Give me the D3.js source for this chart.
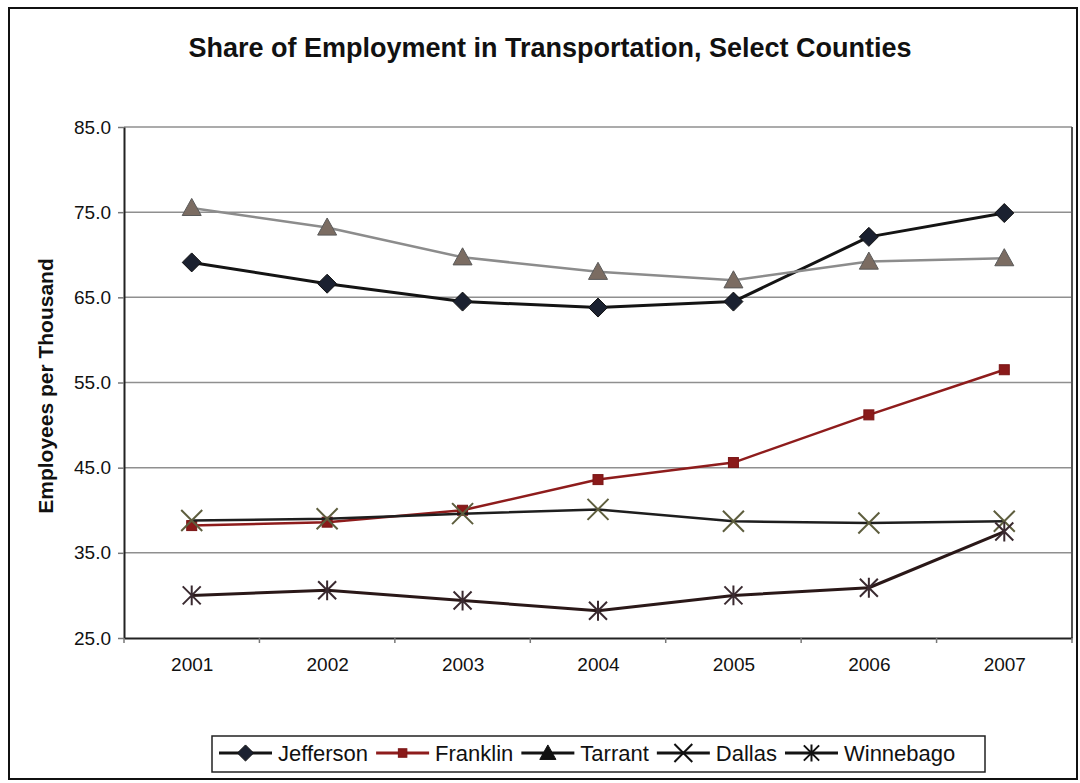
<!DOCTYPE html>
<html>
<head>
<meta charset="utf-8">
<script src="https://cdn.jsdelivr.net/npm/d3@7"></script>
<style>
  html, body { margin: 0; padding: 0; background: #fff; }
  svg { display: block; font-family: "Liberation Sans", Arial, sans-serif; }
</style>
</head>
<body>
<svg id="chart" width="1080" height="783"></svg>
<script>
// ---- data ----
const years = ["2001", "2002", "2003", "2004", "2005", "2006", "2007"];
const yTicks = [25, 35, 45, 55, 65, 75, 85];
const seriesNames = ["Jefferson", "Franklin", "Tarrant", "Dallas", "Winnebago"];
const jefferson = [69.1, 66.6, 64.5, 63.8, 64.5, 72.1, 74.9];
const franklin  = [38.2, 38.6, 40.0, 43.6, 45.6, 51.2, 56.5];
const tarrant   = [75.5, 73.2, 69.7, 68.0, 67.0, 69.2, 69.6];
const dallas    = [38.8, 39.0, 39.6, 40.1, 38.7, 38.5, 38.7];
const winnebago = [30.0, 30.6, 29.4, 28.2, 30.0, 30.9, 37.5];
const titleText = "Share of Employment in Transportation, Select Counties";
const yTitleText = "Employees per Thousand";

// ---- styles ----
const styles = {
  Jefferson: { line: "#141414", width: 3,   marker: "diamond",  fill: "#1b2130", stroke: "#111", legendLine: "#141414" },
  Franklin:  { line: "#8e1c1c", width: 2.5, marker: "square",   fill: "#8a1a1a", stroke: "#7a1515", legendLine: "#8e1c1c" },
  Tarrant:   { line: "#8c8c8c", width: 2.5, marker: "triangle", fill: "#7b6c62", stroke: "#5a5a5a", legendLine: "#141414" },
  Dallas:    { line: "#1e1e1e", width: 2.5, marker: "x",        fill: "none",    stroke: "#5e5e3e", legendLine: "#141414" },
  Winnebago: { line: "#2a1818", width: 3,   marker: "star",     fill: "none",    stroke: "#3a2a30", legendLine: "#141414" }
};
const seriesValues = [jefferson, franklin, tarrant, dallas, winnebago];

const svg = d3.select("#chart");
const plot = { left: 124, right: 1072, top: 127, bottom: 638 };

// outer border
svg.append("rect").attr("x", 9).attr("y", 8).attr("width", 1068).attr("height", 771)
  .attr("fill", "none").attr("stroke", "#111").attr("stroke-width", 2);

// title
svg.append("text").attr("x", 550).attr("y", 57).attr("text-anchor", "middle")
  .attr("font-size", 27).attr("font-weight", "bold").attr("fill", "#111").text(titleText);

const x = d3.scalePoint().domain(years).range([plot.left, plot.right]).padding(0.5);
const y = d3.scaleLinear().domain([25, 85]).range([plot.bottom, plot.top]);

// gridlines
svg.append("g").selectAll("line").data(yTicks.filter(d => d > 25)).join("line")
  .attr("x1", plot.left).attr("x2", plot.right)
  .attr("y1", d => y(d)).attr("y2", d => y(d))
  .attr("stroke", "#8f8f8f").attr("stroke-width", 1.5);

// right frame
svg.append("line").attr("x1", plot.right).attr("x2", plot.right)
  .attr("y1", plot.top).attr("y2", plot.bottom).attr("stroke", "#555").attr("stroke-width", 2);

// y axis
const yAxis = svg.append("g").attr("transform", `translate(${plot.left},0)`)
  .call(d3.axisLeft(y).tickValues(yTicks).tickFormat(d3.format(".1f")).tickSize(6).tickSizeOuter(0));
yAxis.select(".domain").attr("stroke", "#222").attr("stroke-width", 2);
yAxis.selectAll(".tick line").attr("stroke", "#777").attr("stroke-width", 1.5);
yAxis.selectAll(".tick text").attr("font-size", 19).attr("fill", "#111")
  .attr("font-family", "Liberation Sans, Arial, sans-serif").attr("x", -13);

// x axis
const xAxis = svg.append("g").attr("transform", `translate(0,${plot.bottom})`)
  .call(d3.axisBottom(x).tickSize(0).tickSizeOuter(0).tickPadding(20));
xAxis.select(".domain").attr("stroke", "#222").attr("stroke-width", 2);
xAxis.selectAll(".tick text").attr("font-size", 19).attr("fill", "#111")
  .attr("font-family", "Liberation Sans, Arial, sans-serif");
// category boundary ticks
const step = x.step();
const bounds = years.map(d => x(d) - step / 2).concat([x(years[years.length - 1]) + step / 2]);
xAxis.append("g").selectAll("line").data(bounds).join("line")
  .attr("x1", d => d).attr("x2", d => d).attr("y1", 0).attr("y2", 5)
  .attr("stroke", "#777").attr("stroke-width", 1.5);

// y title
svg.append("text").attr("transform", "translate(53,386) rotate(-90)")
  .attr("text-anchor", "middle").attr("font-size", 21).attr("font-weight", "bold")
  .attr("fill", "#111").text(yTitleText);

// marker drawing
function drawMarker(g, type, cx, cy, st, scale) {
  const s = scale || 1;
  if (type === "diamond") {
    const r = 9.5 * s;
    g.append("path").attr("d", `M${cx},${cy - r}L${cx + r},${cy}L${cx},${cy + r}L${cx - r},${cy}Z`)
      .attr("fill", st.fill).attr("stroke", st.stroke).attr("stroke-width", 1);
  } else if (type === "square") {
    const r = 5 * s;
    g.append("rect").attr("x", cx - r).attr("y", cy - r).attr("width", 2 * r).attr("height", 2 * r)
      .attr("fill", st.fill).attr("stroke", st.stroke).attr("stroke-width", 1);
  } else if (type === "triangle") {
    const r = 9.5 * s;
    g.append("path").attr("d", `M${cx},${cy - r}L${cx + r},${cy + r * 0.8}L${cx - r},${cy + r * 0.8}Z`)
      .attr("fill", st.fill).attr("stroke", st.stroke).attr("stroke-width", 1);
  } else if (type === "x") {
    const r = 10.5 * s;
    g.append("path").attr("d", `M${cx - r},${cy - r}L${cx + r},${cy + r}M${cx - r},${cy + r}L${cx + r},${cy - r}`)
      .attr("stroke", st.stroke).attr("stroke-width", 2).attr("fill", "none");
  } else if (type === "star") {
    const r = 9 * s;
    g.append("path").attr("d",
      `M${cx - r},${cy - r}L${cx + r},${cy + r}M${cx - r},${cy + r}L${cx + r},${cy - r}M${cx},${cy - r * 1.1}L${cx},${cy + r * 1.1}`)
      .attr("stroke", st.stroke).attr("stroke-width", 2).attr("fill", "none");
  }
}

const line = d3.line().x((d, i) => x(years[i])).y(d => y(d));
const seriesG = svg.append("g");
seriesNames.forEach((name, k) => {
  const st = styles[name];
  const vals = seriesValues[k];
  const g = seriesG.append("g");
  g.append("path").datum(vals).attr("d", line).attr("fill", "none")
    .attr("stroke", st.line).attr("stroke-width", st.width).attr("stroke-linejoin", "round");
  vals.forEach((v, i) => drawMarker(g, st.marker, x(years[i]), y(v), st, 1));
});

// legend
const legend = svg.append("g");
legend.append("rect").attr("x", 212).attr("y", 736).attr("width", 773).attr("height", 36)
  .attr("fill", "#fff").attr("stroke", "#222").attr("stroke-width", 1.5);
let lx = 219;
const ly = 753;
seriesNames.forEach(name => {
  const st = styles[name];
  legend.append("line").attr("x1", lx).attr("x2", lx + 53).attr("y1", ly).attr("y2", ly)
    .attr("stroke", st.legendLine).attr("stroke-width", 3);
  const mst = Object.assign({}, st, name === "Tarrant" ? { fill: "#111", stroke: "#111" } :
    name === "Dallas" || name === "Winnebago" ? { stroke: "#111" } : {});
  drawMarker(legend, st.marker, lx + 26.5, ly, mst, 0.85);
  const t = legend.append("text").attr("x", lx + 59).attr("y", ly + 8).attr("font-size", 22)
    .attr("fill", "#111").text(name);
  lx += 59 + t.node().getComputedTextLength() + 8;
});
</script>
</body>
</html>
